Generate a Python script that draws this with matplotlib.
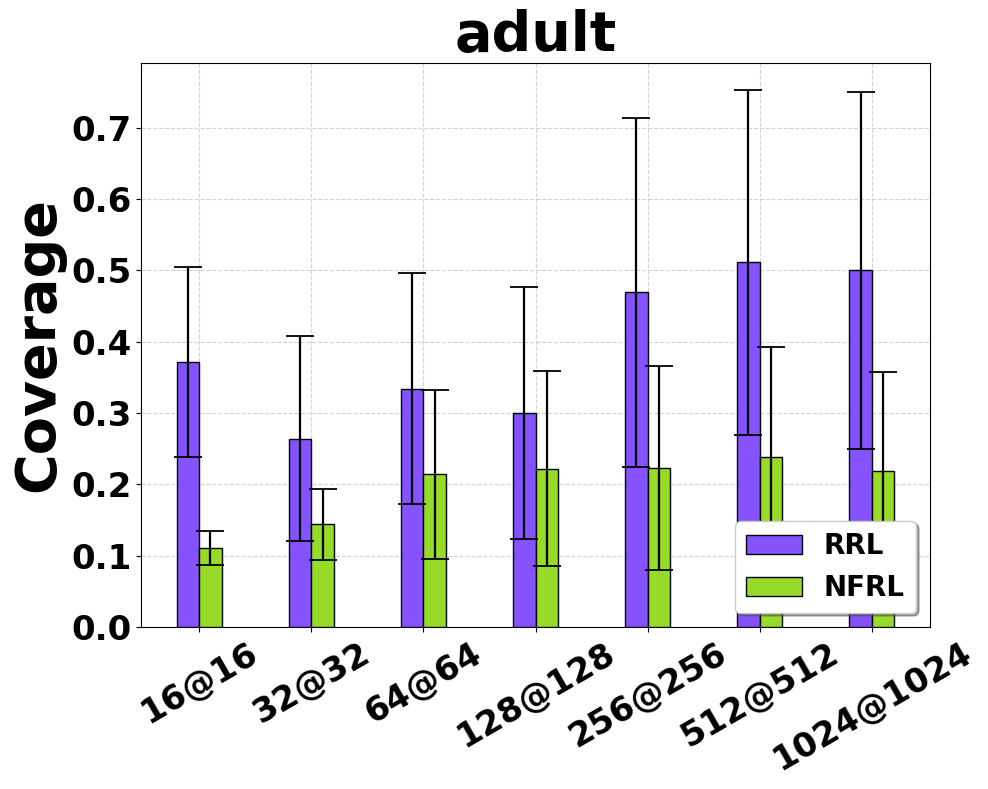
import numpy as np
import matplotlib
matplotlib.use("Agg")
from matplotlib import pyplot as plt

labels = ["16@16", "32@32", "64@64", "128@128", "256@256", "512@512", "1024@1024"]
rrl_mean = [0.371, 0.264, 0.334, 0.300, 0.469, 0.511, 0.500]
rrl_std = [0.133, 0.144, 0.162, 0.176, 0.245, 0.242, 0.250]
nfrl_mean = [0.111, 0.144, 0.214, 0.222, 0.223, 0.239, 0.219]
nfrl_std = [0.024, 0.050, 0.118, 0.137, 0.143, 0.153, 0.139]

c_rrl = "#8552FF"
c_nfrl = "#95DB28"

fig = plt.figure(figsize=(9.88, 7.89), dpi=100)
ax = fig.add_axes([141/988, 1-627/789, (930-141)/988, (627-63)/789])

x = np.arange(len(labels))
w = 0.2
ekw = dict(elinewidth=1.6, capthick=1.3)
ax.bar(x - w/2, rrl_mean, w, yerr=rrl_std, capsize=10, color=c_rrl,
       edgecolor="black", linewidth=1, label="RRL", error_kw=ekw, zorder=3)
ax.bar(x + w/2, nfrl_mean, w, yerr=nfrl_std, capsize=10, color=c_nfrl,
       edgecolor="black", linewidth=1, label="NFRL", error_kw=ekw, zorder=3)

ax.grid(True, linestyle="--", color="lightgray", linewidth=0.8, zorder=0)
ax.set_axisbelow(True)
ax.set_xticks(x)
ax.set_xticklabels(labels, rotation=30, fontsize=24.5, fontweight="bold")
ax.tick_params(axis="y", labelsize=24.5)
plt.setp(ax.get_yticklabels(), fontweight="bold")
ax.set_ylabel("Coverage", fontsize=40, fontweight="bold")
ax.set_title("adult", fontsize=40, fontweight="bold")

ax.legend(loc="lower right", shadow=True, fancybox=True,
          prop={"weight": "bold", "size": 20})

fig.savefig("out.png", dpi=100)
